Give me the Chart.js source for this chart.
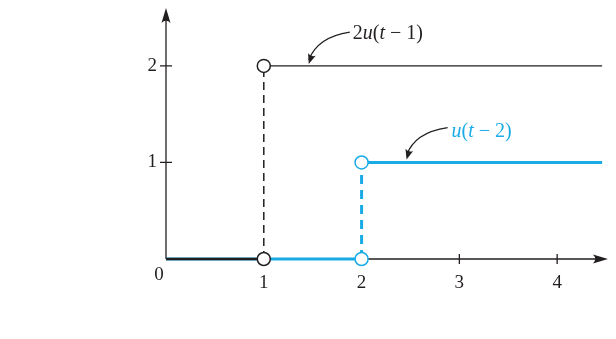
<!DOCTYPE html>
<html>
<head>
<meta charset="utf-8">
<script src="https://cdn.jsdelivr.net/npm/chart.js@4.4.0/dist/chart.umd.min.js"></script>
<style>
  html, body { margin: 0; padding: 0; background: #fff; }
  #wrap { width: 616px; height: 339px; }
</style>
</head>
<body>
<div id="wrap"><canvas id="steps"></canvas></div>
<script>
// axis ranges and ticks
const tTicks = [1, 2, 3, 4];
const yTicks = [1, 2];
const tMax = 4.52;
const yMax = 2.6;
const tEnd = 4.46;

// 2u(t-1): jumps from 0 to 2 at t = 1
const jumpA = 1;
const heightA = 2;
// u(t-2): jumps from 0 to 1 at t = 2
const jumpB = 2;
const heightB = 1;

const INK = '#231f20';
const BLUE = '#1aabe6';
const FONT = '"Liberation Serif", "DejaVu Serif", serif';

function seg(points, color, width, dash, order) {
  return {
    data: points,
    borderColor: color,
    borderWidth: width,
    borderDash: dash || [],
    pointRadius: 0,
    showLine: true,
    fill: false,
    clip: false,
    order: order
  };
}

function openDots(points, color) {
  return {
    data: points,
    showLine: false,
    pointRadius: 6.5,
    pointBackgroundColor: '#fff',
    pointBorderColor: color,
    pointBorderWidth: 1.5,
    clip: false,
    order: 0
  };
}

function arrowHead(ctx, tx, ty, angle, len, half) {
  ctx.save();
  ctx.translate(tx, ty);
  ctx.rotate(angle);
  ctx.beginPath();
  ctx.moveTo(0, 0);
  ctx.lineTo(-len, -half);
  ctx.quadraticCurveTo(-len * 0.7, 0, -len, half);
  ctx.closePath();
  ctx.fill();
  ctx.restore();
}

// text pieces: [string, italic]
function mathLabel(ctx, parts, x, y, color) {
  ctx.save();
  ctx.fillStyle = color;
  ctx.textBaseline = 'middle';
  ctx.textAlign = 'left';
  let cx = x;
  parts.forEach(([s, it]) => {
    ctx.font = (it ? 'italic ' : '') + '20px ' + FONT;
    ctx.fillText(s, cx, y);
    cx += ctx.measureText(s).width;
  });
  ctx.restore();
}

function curvedArrow(ctx, chart, from, ctrl, to) {
  const { x, y } = chart.scales;
  const p0 = [x.getPixelForValue(from[0]), y.getPixelForValue(from[1])];
  const p1 = [x.getPixelForValue(ctrl[0]), y.getPixelForValue(ctrl[1])];
  const p2 = [x.getPixelForValue(to[0]), y.getPixelForValue(to[1])];
  ctx.save();
  ctx.strokeStyle = INK;
  ctx.fillStyle = INK;
  ctx.lineWidth = 1.2;
  ctx.beginPath();
  ctx.moveTo(p0[0], p0[1]);
  ctx.quadraticCurveTo(p1[0], p1[1], p2[0], p2[1] - 4);
  ctx.stroke();
  arrowHead(ctx, p2[0], p2[1], Math.atan2(p2[1] - p1[1], p2[0] - p1[0]), 10, 4);
  ctx.restore();
}

const axesPlugin = {
  id: 'axes',
  beforeDatasetsDraw(chart) {
    const { ctx, scales: { x, y } } = chart;
    const x0 = x.getPixelForValue(0), y0 = y.getPixelForValue(0);
    const xr = x.getPixelForValue(tMax), yt = y.getPixelForValue(yMax);
    ctx.save();
    ctx.strokeStyle = INK;
    ctx.fillStyle = INK;
    ctx.lineWidth = 1.3;
    ctx.beginPath();
    ctx.moveTo(x0, y0); ctx.lineTo(xr - 6, y0);
    ctx.moveTo(x0, y0); ctx.lineTo(x0, yt + 6);
    ctx.stroke();
    arrowHead(ctx, xr, y0, 0, 15, 4.5);
    arrowHead(ctx, x0, yt, -Math.PI / 2, 15, 4.5);

    ctx.beginPath();
    tTicks.forEach(t => {
      const px = x.getPixelForValue(t);
      ctx.moveTo(px, y0 - 5); ctx.lineTo(px, y0 + 5);
    });
    yTicks.forEach(v => {
      const py = y.getPixelForValue(v);
      ctx.moveTo(x0 - 6, py); ctx.lineTo(x0 + 6, py);
    });
    ctx.stroke();

    ctx.font = '19px ' + FONT;
    ctx.textBaseline = 'middle';
    ctx.textAlign = 'center';
    tTicks.forEach(t => ctx.fillText(String(t), x.getPixelForValue(t), y0 + 24));
    ctx.fillText('0', x0 - 7, y0 + 16);
    ctx.textAlign = 'right';
    yTicks.forEach(v => ctx.fillText(String(v), x0 - 9, y.getPixelForValue(v)));
    ctx.restore();
  },
  afterDraw(chart) {
    const { ctx, scales: { x, y } } = chart;
    mathLabel(ctx, [['2', false], ['u', true], ['(', false], ['t', true], [' \u2212 ', false], ['1)', false]],
      x.getPixelForValue(1.91), y.getPixelForValue(2.33), INK);
    curvedArrow(ctx, chart, [1.88, 2.35], [1.55, 2.30], [1.46, 2.02]);
    mathLabel(ctx, [['u', true], ['(', false], ['t', true], [' \u2212 ', false], ['2)', false]],
      x.getPixelForValue(2.92), y.getPixelForValue(1.32), BLUE);
    curvedArrow(ctx, chart, [2.88, 1.36], [2.54, 1.31], [2.46, 1.03]);
  }
};

new Chart(document.getElementById('steps'), {
  type: 'scatter',
  data: {
    datasets: [
      openDots([{ x: jumpA, y: heightA }, { x: jumpA, y: 0 }], INK),
      openDots([{ x: jumpB, y: heightB }, { x: jumpB, y: 0 }], BLUE),
      seg([{ x: 0, y: 0 }, { x: jumpA, y: 0 }], INK, 2.5, null, 1),
      seg([{ x: jumpA, y: heightA }, { x: tEnd, y: heightA }], INK, 1.3, null, 1),
      seg([{ x: jumpA, y: 0 }, { x: jumpA, y: heightA }], INK, 1.5, [8, 5], 1),
      seg([{ x: 0, y: 0 }, { x: jumpB, y: 0 }], BLUE, 3, null, 2),
      seg([{ x: jumpB, y: heightB }, { x: tEnd, y: heightB }], BLUE, 3, null, 2),
      seg([{ x: jumpB, y: 0 }, { x: jumpB, y: heightB }], BLUE, 3, [9, 6], 2)
    ]
  },
  options: {
    responsive: true,
    maintainAspectRatio: false,
    animation: false,
    layout: { padding: { left: 166, right: 7, top: 4, bottom: 80 } },
    plugins: { legend: { display: false }, tooltip: { enabled: false } },
    scales: {
      x: { type: 'linear', min: 0, max: tMax, display: false },
      y: { type: 'linear', min: 0, max: yMax, display: false }
    }
  },
  plugins: [axesPlugin]
});
</script>
</body>
</html>
